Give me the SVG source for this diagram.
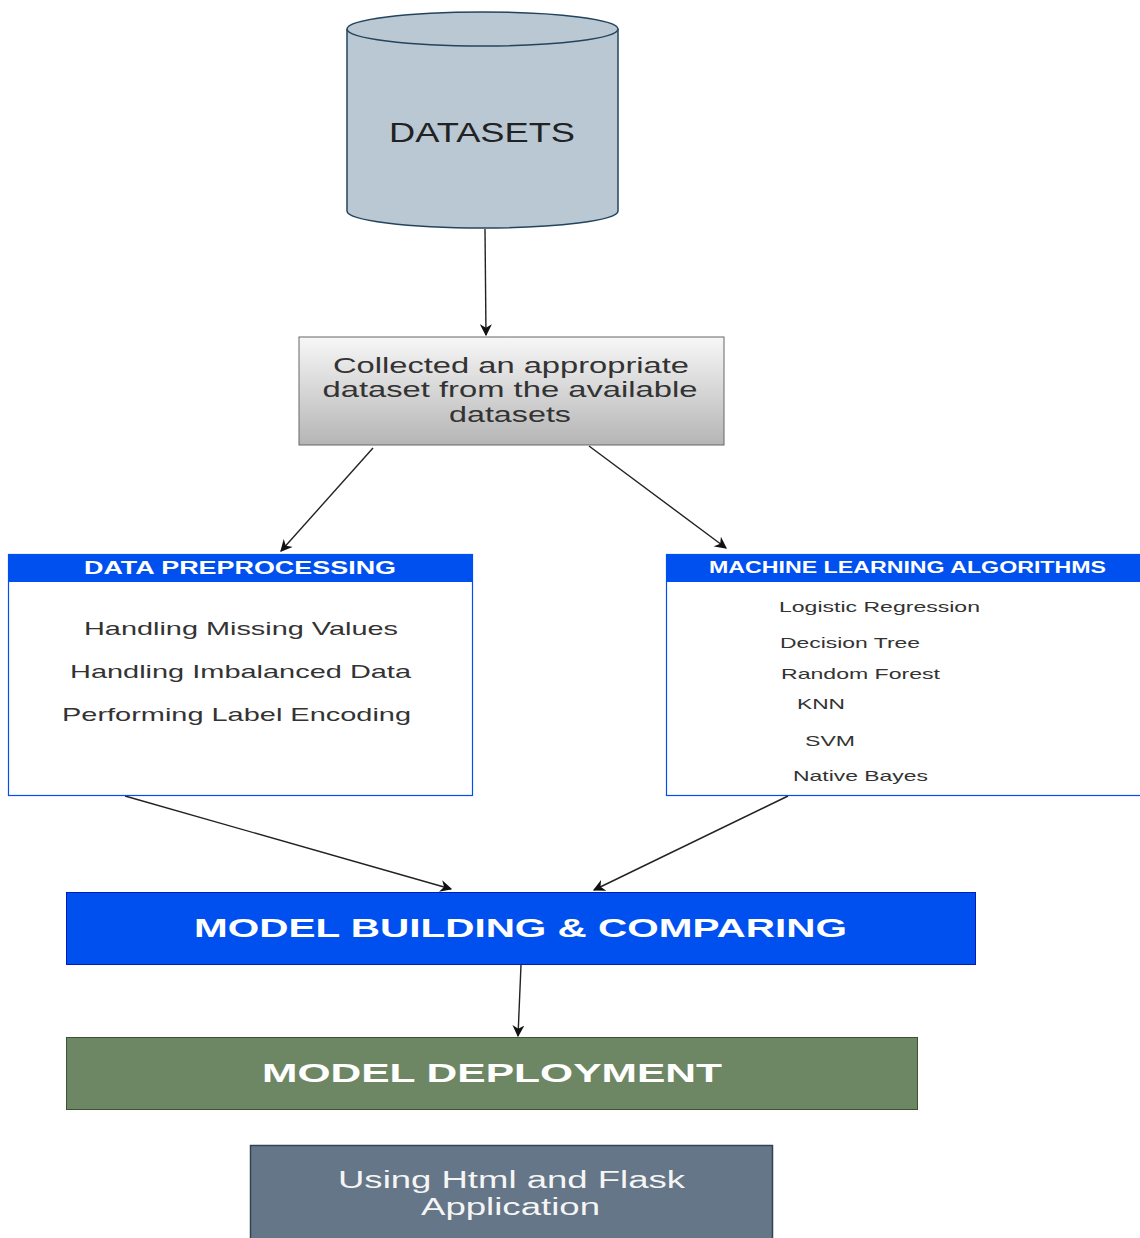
<svg xmlns="http://www.w3.org/2000/svg" width="1140" height="1238" viewBox="0 0 1140 1238">
<style>
text{font-family:"Liberation Sans",Arial,sans-serif;}
.dark{fill:#222;}
.body{fill:#333;}
.white{fill:#fff;font-weight:bold;}
.conn{stroke:#222;stroke-width:1.4;fill:none;marker-end:url(#arr);}
</style>
<defs>
<marker id="arr" viewBox="0 0 10 10" refX="9" refY="5" markerWidth="12" markerHeight="12" markerUnits="userSpaceOnUse" orient="auto">
<path d="M0,0 L10,5 L0,10 L3,5 Z" fill="#111"/>
</marker>
<linearGradient id="gray" x1="0" y1="0" x2="0" y2="1">
<stop offset="0" stop-color="#f7f7f7"/>
<stop offset="1" stop-color="#b5b5b5"/>
</linearGradient>
</defs>

<g id="connectors">
<line class="conn" x1="485" y1="229" x2="486" y2="335"/>
<line class="conn" x1="373" y1="448" x2="281" y2="551"/>
<line class="conn" x1="589" y1="446" x2="726" y2="548"/>
<line class="conn" x1="125" y1="796" x2="451" y2="889"/>
<line class="conn" x1="788" y1="796" x2="594" y2="890"/>
<line class="conn" x1="521" y1="965" x2="518" y2="1036"/>
</g>

<g id="datasets">
<path d="M347,29 L347,211 A135.5,17 0 0 0 618,211 L618,29" fill="#bac8d3" stroke="#23445d" stroke-width="1.5"/>
<ellipse cx="482.5" cy="29" rx="135.5" ry="17" fill="#bac8d3" stroke="#23445d" stroke-width="1.5"/>
<text class="dark" x="482" y="142" font-size="28" text-anchor="middle" textLength="186" lengthAdjust="spacingAndGlyphs">DATASETS</text>
</g>

<g id="collect">
<rect x="299" y="337" width="425" height="108" fill="url(#gray)" stroke="#666" stroke-width="1"/>
<text class="body" x="511" y="373" font-size="22" text-anchor="middle" textLength="356" lengthAdjust="spacingAndGlyphs">Collected an appropriate</text>
<text class="body" x="510" y="397" font-size="22" text-anchor="middle" textLength="375" lengthAdjust="spacingAndGlyphs">dataset from the available</text>
<text class="body" x="510" y="422" font-size="22" text-anchor="middle" textLength="122" lengthAdjust="spacingAndGlyphs">datasets</text>
</g>

<g id="preprocessing">
<rect x="8.5" y="554.5" width="464" height="241" fill="#fff" stroke="#0050ef" stroke-width="1.2"/>
<rect x="8.5" y="554.5" width="464" height="27" fill="#0050ef" stroke="#0050ef" stroke-width="1"/>
<text class="white" x="240" y="574" font-size="18" text-anchor="middle" textLength="312" lengthAdjust="spacingAndGlyphs">DATA PREPROCESSING</text>
<text class="body" x="241" y="635" font-size="19" text-anchor="middle" textLength="314" lengthAdjust="spacingAndGlyphs">Handling Missing Values</text>
<text class="body" x="240.5" y="678" font-size="19" text-anchor="middle" textLength="341" lengthAdjust="spacingAndGlyphs">Handling Imbalanced Data</text>
<text class="body" x="236.5" y="721" font-size="19" text-anchor="middle" textLength="349" lengthAdjust="spacingAndGlyphs">Performing Label Encoding</text>
</g>

<g id="ml-algorithms">
<rect x="666.5" y="554.5" width="480" height="241" fill="#fff" stroke="#0050ef" stroke-width="1.2"/>
<rect x="666.5" y="554.5" width="480" height="27" fill="#0050ef" stroke="#0050ef" stroke-width="1"/>
<text class="white" x="907.5" y="573" font-size="16" text-anchor="middle" textLength="397" lengthAdjust="spacingAndGlyphs">MACHINE LEARNING ALGORITHMS</text>
<text class="body" x="779" y="612" font-size="15" textLength="201" lengthAdjust="spacingAndGlyphs">Logistic Regression</text>
<text class="body" x="780" y="648" font-size="15" textLength="140" lengthAdjust="spacingAndGlyphs">Decision Tree</text>
<text class="body" x="781" y="679" font-size="15" textLength="159" lengthAdjust="spacingAndGlyphs">Random Forest</text>
<text class="body" x="797" y="709" font-size="15" textLength="48" lengthAdjust="spacingAndGlyphs">KNN</text>
<text class="body" x="805" y="746" font-size="15" textLength="50" lengthAdjust="spacingAndGlyphs">SVM</text>
<text class="body" x="793" y="781" font-size="15" textLength="135" lengthAdjust="spacingAndGlyphs">Native Bayes</text>
</g>

<g id="model-building">
<rect x="66.5" y="892.5" width="909" height="72" fill="#0050ef" stroke="#001dbc" stroke-width="1"/>
<text class="white" x="520.5" y="937" font-size="26" text-anchor="middle" textLength="653" lengthAdjust="spacingAndGlyphs">MODEL BUILDING &amp; COMPARING</text>
</g>

<g id="model-deployment">
<rect x="66.5" y="1037.5" width="851" height="72" fill="#6d8764" stroke="#3a5431" stroke-width="1"/>
<text class="white" x="492" y="1082" font-size="26" text-anchor="middle" textLength="460" lengthAdjust="spacingAndGlyphs">MODEL DEPLOYMENT</text>
</g>

<g id="flask">
<rect x="250.5" y="1145.5" width="522" height="100" fill="#647687" stroke="#314354" stroke-width="1.5"/>
<text x="511.5" y="1188" font-size="23" fill="#f5f5f5" text-anchor="middle" textLength="347" lengthAdjust="spacingAndGlyphs">Using Html and Flask</text>
<text x="510.5" y="1215" font-size="23" fill="#f5f5f5" text-anchor="middle" textLength="179" lengthAdjust="spacingAndGlyphs">Application</text>
</g>
</svg>
